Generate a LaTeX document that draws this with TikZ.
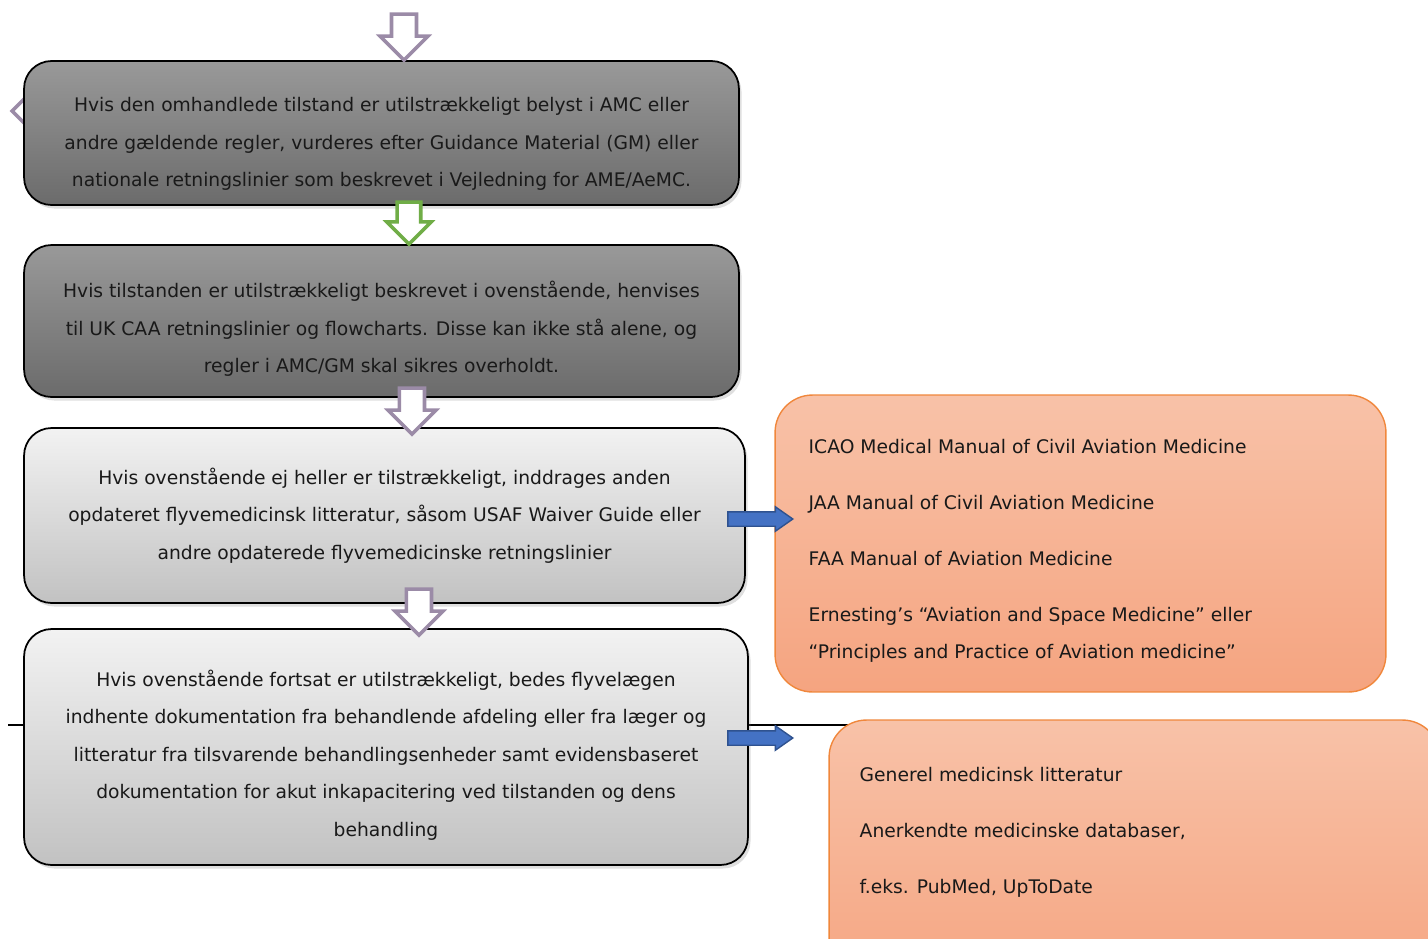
\documentclass[tikz,border=0pt]{standalone}
\usepackage{fontspec}
\setmainfont{DejaVu Sans}
\usepackage{tikz}
\usetikzlibrary{calc,backgrounds,positioning,shapes.arrows,shadows}
\definecolor{ArrowGray}{RGB}{155,139,167}
\definecolor{ArrowGreen}{RGB}{112,173,71}
\definecolor{BlueFill}{RGB}{68,114,196}
\definecolor{BlueLine}{RGB}{47,82,143}
\definecolor{OrangeLine}{RGB}{240,135,60}
\definecolor{OrangeTop}{RGB}{248,194,168}
\definecolor{OrangeBottom}{RGB}{245,164,128}

\begin{document}
\begin{tikzpicture}[x=0.02cm, y=-0.02cm,
       text=black!90,
       every node/.style={font=\fontsize{10.65}{21.3}\selectfont},
       levelbox/.style 2 args = {rectangle, rounded corners=0.55cm, line width=1pt,
                                 draw=black, top color=#1, bottom color=#2,
                                 drop shadow={opacity=0.25, shadow xshift=1.5pt, shadow yshift=-2pt}},
       leveltext/.style = {align=center, inner sep=0pt},
       sourcebox/.style = {rectangle, rounded corners=0.75cm, line width=0.8pt,
                            draw=OrangeLine, top color=OrangeTop, bottom color=OrangeBottom},
       sourcetext/.style = {align=left, inner sep=0pt, anchor=north west},
       downarrow/.style = {single arrow, shape border rotate=270, draw=#1, fill=white,
                           line width=2pt, inner sep=0.215cm, single arrow head extend=0.23cm,
                           minimum height=0.92cm, outer sep=0pt, anchor=tip},
       sidearrow/.style = {single arrow, draw=BlueLine, fill=BlueFill, line width=0.8pt,
                           inner sep=0.13cm, single arrow head extend=0.1cm,
                           single arrow tip angle=70, minimum height=1.3cm,
                           outer sep=0pt, anchor=tail}]
	\useasboundingbox (0,0) rectangle (1428,938);
	\clip (0,0) rectangle (1428,938);

	%% Levels of guidance
	\node [levelbox={black!40}{black!58}, minimum width=14.3cm, minimum height=2.88cm] (amc) at (381.5,133) {};
	\node [leveltext] (amc_txt) at ([yshift=-0.22cm]amc.center)
	      {Hvis den omhandlede tilstand er utilstrækkeligt belyst i AMC eller\\
	       andre gældende regler, vurderes efter Guidance Material (GM) eller\\
	       nationale retningslinier som beskrevet i Vejledning for AME/AeMC.};
	\node [levelbox={black!40}{black!58}, minimum width=14.3cm, minimum height=3.04cm] (ukcaa) at (381.5,321) {};
	\node [leveltext] (ukcaa_txt) at ([yshift=-0.16cm]ukcaa.center)
	      {Hvis tilstanden er utilstrækkeligt beskrevet i ovenstående, henvises\\
	       til UK CAA retningslinier og flowcharts. Disse kan ikke stå alene, og\\
	       regler i AMC/GM skal sikres overholdt.};
	\node [levelbox={black!5}{black!24}, minimum width=14.42cm, minimum height=3.5cm] (aviation) at (384.5,515.5) {};
	\node [leveltext] (aviation_txt) at (aviation.center)
	      {Hvis ovenstående ej heller er tilstrækkeligt, inddrages anden\\
	       opdateret flyvemedicinsk litteratur, såsom USAF Waiver Guide eller\\
	       andre opdaterede flyvemedicinske retningslinier};
	\node [levelbox={black!5}{black!24}, minimum width=14.48cm, minimum height=4.72cm] (documentation) at (386,747) {};
	\node [leveltext] (documentation_txt) at ([yshift=-0.16cm]documentation.center)
	      {Hvis ovenstående fortsat er utilstrækkeligt, bedes flyvelægen\\
	       indhente dokumentation fra behandlende afdeling eller fra læger og\\
	       litteratur fra tilsvarende behandlingsenheder samt evidensbaseret\\
	       dokumentation for akut inkapacitering ved tilstanden og dens\\
	       behandling};

	%% Sources
	\node [sourcebox, minimum width=12.22cm, minimum height=5.94cm] (manuals) at (1080.5,543.5) {};
	\node [sourcetext] (manuals_txt) at ([xshift=0.68cm, yshift=-0.9cm]manuals.north west)
	      {ICAO Medical Manual of Civil Aviation Medicine\\[10.5pt]
	       JAA Manual of Civil Aviation Medicine\\[10.5pt]
	       FAA Manual of Aviation Medicine\\[10.5pt]
	       Ernesting’s “Aviation and Space Medicine” eller\\
	       “Principles and Practice of Aviation medicine”};
	\node [sourcebox, minimum width=12.22cm, minimum height=5.6cm] (general) at (1134.5,860) {};
	\node [sourcetext] (general_txt) at ([xshift=0.62cm, yshift=-0.96cm]general.north west)
	      {Generel medicinsk litteratur\\[10.5pt]
	       Anerkendte medicinske databaser,\\[10.5pt]
	       f.eks. PubMed, UpToDate};

	%% Things behind the boxes
	\begin{scope}[on background layer]
		\coordinate (rule_l) at (8,725);
		\coordinate (rule_r) at (860,725);
		\draw [line width=1pt] (rule_l) -- (rule_r);
		\node [downarrow=ArrowGray, shape border rotate=180] (back) at ([xshift=-0.22cm, yshift=0.44cm]amc.west) {};
	\end{scope}

	%% Arrows
	\node [downarrow=ArrowGray] (into) at ([xshift=0.45cm]amc.north) {};
	\node [downarrow=ArrowGreen, minimum height=0.84cm, inner sep=0.2cm, single arrow head extend=0.21cm] (a1) at ([xshift=0.55cm]ukcaa.north) {};
	\node [downarrow=ArrowGray] (a2) at ([xshift=0.55cm, yshift=-0.14cm]aviation.north) {};
	\node [downarrow=ArrowGray] (a3) at ([xshift=0.66cm, yshift=-0.14cm]documentation.north) {};
	\node [sidearrow] (to_manuals) at ([xshift=-0.36cm, yshift=-0.07cm]aviation.east) {};
	\node [sidearrow] (to_general) at ([xshift=-0.42cm, yshift=0.18cm]documentation.east) {};
\end{tikzpicture}
\end{document}
